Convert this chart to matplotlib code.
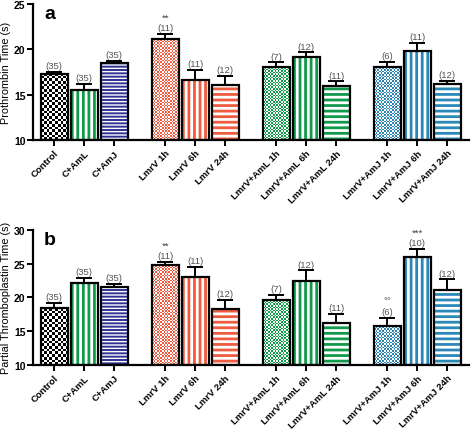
import matplotlib
matplotlib.use("Agg")
import matplotlib.pyplot as plt
from matplotlib.colors import ListedColormap
import numpy as np

plt.rcParams['font.family'] = ['Liberation Sans', 'DejaVu Sans']
plt.rcParams['font.weight'] = 'bold'

groups = ["Control", "C+AmL", "C+AmJ",
          "LmrV 1h", "LmrV 6h", "LmrV 24h",
          "LmrV+AmL 1h", "LmrV+AmL 6h", "LmrV+AmL 24h",
          "LmrV+AmJ 1h", "LmrV+AmJ 6h", "LmrV+AmJ 24h"]

# prothrombin time (s): mean, upper error
pt_mean = [17.3, 15.55, 18.45, 21.1, 16.6, 16.1, 18.0, 19.1, 15.9, 18.1, 19.85, 16.15]
pt_err = [0.2, 0.65, 0.3, 0.6, 1.15, 1.0, 0.55, 0.55, 0.55, 0.5, 0.9, 0.35]
pt_n = [35, 35, 35, 11, 11, 12, 7, 12, 11, 6, 11, 12]
pt_sig = ["", "", "", "**", "", "", "", "", "", "", "", ""]

# partial thromboplastin time (s)
ptt_mean = [18.4, 22.15, 21.5, 24.8, 23.1, 18.3, 19.6, 22.5, 16.15, 15.8, 25.95, 21.1]
ptt_err = [0.8, 0.8, 0.55, 0.45, 1.4, 1.3, 0.75, 1.5, 1.45, 1.2, 1.3, 1.6]
ptt_n = [35, 35, 35, 11, 11, 12, 7, 12, 11, 6, 10, 12]
ptt_sig = ["", "", "", "**", "", "", "", "", "", "°°", "***", ""]

red = "#ef5b3f"
green = "#10994a"
blue = "#2b87b8"
navy = "#2e3192"
colors = ["black", green, navy, red, red, red, green, green, green, blue, blue, blue]
# "check" = checkerboard, otherwise a hatch pattern in white
patterns = ["check", "|||", "-----", "fine", "|||", "---", "fine", "|||", "---", "fine", "|||", "---"]
hatch_lw = [0, 2.0, 1.0, 0, 2.0, 2.0, 0, 2.0, 2.0, 0, 2.0, 2.0]

x = np.array([0, 1, 2, 3.7, 4.7, 5.7, 7.4, 8.4, 9.4, 11.1, 12.1, 13.1])
width = 0.9
xlim = (-0.7, 13.83)

fig = plt.figure(figsize=(4.72, 4.35), dpi=100)
ax1 = fig.add_axes([0.07, 0.676, 0.924, 0.3125])
ax2 = fig.add_axes([0.07, 0.159, 0.924, 0.31])


def checker(ax, patch, color, cell_px, ylim, ax_h_px):
    x0 = patch.get_x()
    w = patch.get_width()
    y0 = patch.get_y()
    h = patch.get_height()
    px_x = 472 * 0.924 / (xlim[1] - xlim[0])
    px_y = ax_h_px / (ylim[1] - ylim[0])
    nc = max(1, int(round(w * px_x / cell_px)))
    nr = max(1, int(round(h * px_y / cell_px)))
    grid = (np.add.outer(np.arange(nr), np.arange(nc)) % 2).astype(float)
    cmap = ListedColormap(["white", color])
    im = ax.imshow(grid, extent=(x0, x0 + w, y0, y0 + h), origin="lower",
                   cmap=cmap, interpolation="nearest", aspect="auto", zorder=2)
    im.set_clip_path(patch)


def panel(ax, mean, err, n, sig, ylim, ticks, ylabel, letter, ax_h_px):
    span = ylim[1] - ylim[0]
    for i in range(len(x)):
        if patterns[i] in ("check", "fine"):
            p = ax.bar(x[i], mean[i] - ylim[0], width, bottom=ylim[0], color="white",
                       linewidth=0, zorder=1)[0]
            if patterns[i] == "check":
                checker(ax, p, "black", 2.7, ylim, ax_h_px)
            else:
                checker(ax, p, colors[i], 1.6, ylim, ax_h_px)
        else:
            with plt.rc_context({'hatch.linewidth': hatch_lw[i]}):
                ax.bar(x[i], mean[i] - ylim[0], width, bottom=ylim[0], color=colors[i],
                       edgecolor="white", hatch=patterns[i], linewidth=0, zorder=2)
        ax.bar(x[i], mean[i] - ylim[0], width, bottom=ylim[0], fill=False,
               edgecolor="black", linewidth=1.6, zorder=3)
    ax.errorbar(x, mean, yerr=[np.zeros(len(err)), err], fmt="none", ecolor="black",
                elinewidth=1.4, capsize=5.5, capthick=1.4, zorder=4)
    for i in range(len(x)):
        top = mean[i] + err[i]
        ax.text(x[i], top + span * 0.012, "(%d)" % n[i], ha="center", va="bottom",
                fontsize=6.8, color="#555555", fontweight="normal")
        if sig[i]:
            ax.text(x[i], top + span * 0.09, sig[i], ha="center", va="bottom",
                    fontsize=6.8, color="#444444", fontweight="normal")
    ax.set_ylim(ylim)
    ax.set_xlim(xlim)
    ax.set_yticks(ticks)
    ax.set_xticks(x)
    ax.set_xticklabels(groups, rotation=45, ha="right", rotation_mode="anchor", fontsize=6.8)
    ax.tick_params(axis="y", labelsize=7.5, width=1.4, length=4, pad=1.5)
    ax.tick_params(axis="x", width=1.4, length=4, pad=2)
    for s in ["top", "right"]:
        ax.spines[s].set_visible(False)
    for s in ["left", "bottom"]:
        ax.spines[s].set_linewidth(1.6)
    ax.set_ylabel(ylabel, fontsize=7.8, labelpad=2)
    ax.text(0.025, 0.99, letter, transform=ax.transAxes, fontsize=14, fontweight="bold",
            va="top", ha="left")


panel(ax1, pt_mean, pt_err, pt_n, pt_sig, (10, 25), [10, 15, 20, 25],
      "Prothrombin Time (s)", "a", 435 * 0.3125)
panel(ax2, ptt_mean, ptt_err, ptt_n, ptt_sig, (10, 30), [10, 15, 20, 25, 30],
      "Partial Thromboplastin Time (s)", "b", 435 * 0.31)

fig.savefig("out.png", dpi=100)
